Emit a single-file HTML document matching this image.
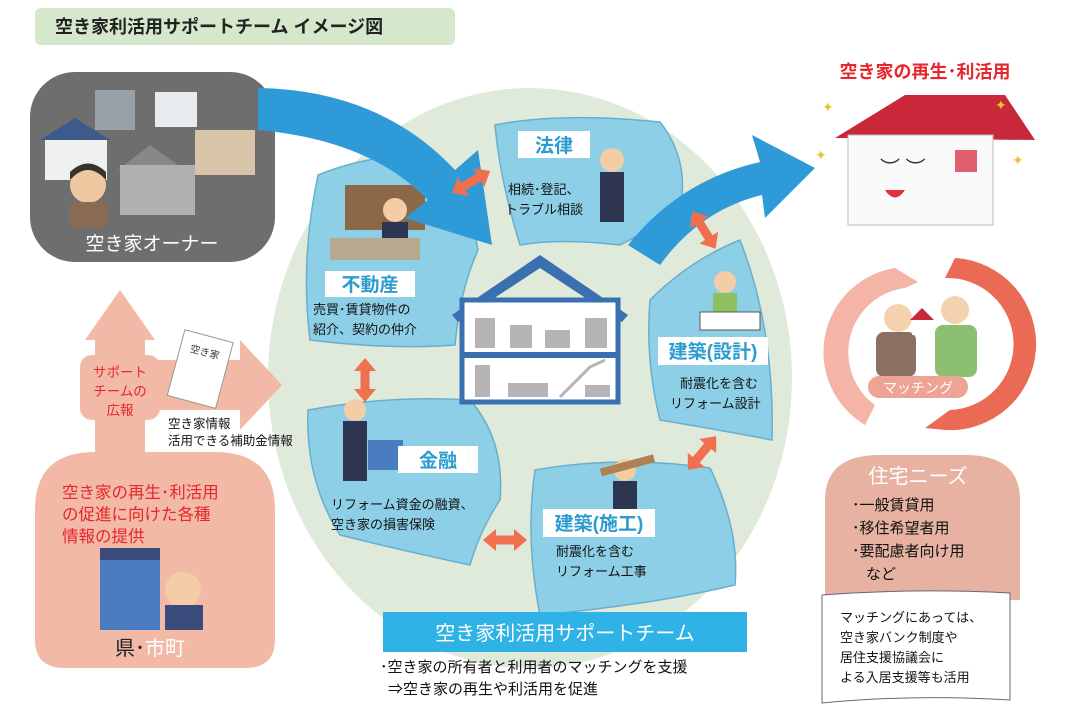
<!DOCTYPE html>
<html><head><meta charset="utf-8"><style>
html,body{margin:0;padding:0;background:#fff;}
svg{display:block;font-family:"Liberation Sans","Noto Sans CJK JP",sans-serif;}
</style></head><body>
<svg width="1078" height="727" viewBox="0 0 1078 727" xmlns="http://www.w3.org/2000/svg">
<defs>
<polygon id="da" points="-22,0 -9,-11 -9,-4.5 9,-4.5 9,-11 22,0 9,11 9,4.5 -9,4.5 -9,11" fill="#ef6f4f"/>
</defs>
<!-- title -->
<rect x="35" y="8" width="420" height="37" rx="6" fill="#d6e8cc"/>
<text x="55" y="33" font-size="18" font-weight="bold" fill="#222">空き家利活用サポートチーム  イメージ図</text>

<!-- big pale circle -->
<ellipse cx="530" cy="378" rx="262" ry="290" fill="#dfeadb"/>

<!-- gray owner box -->
<rect x="30" y="72" width="245" height="190" rx="45" fill="#6e6e6e"/>
<rect x="95" y="90" width="40" height="40" fill="#9aa0a8"/>
<rect x="155" y="92" width="42" height="35" fill="#e8ecef"/>
<polygon points="40,140 75,118 110,140" fill="#3c5a8a"/>
<rect x="45" y="140" width="62" height="40" fill="#f0f0f0"/>
<rect x="195" y="130" width="60" height="45" fill="#d8c4a8"/>
<polygon points="118,170 150,145 185,170" fill="#888"/>
<rect x="120" y="165" width="75" height="50" fill="#b0b0b0"/>
<circle cx="88" cy="185" r="18" fill="#f0c8a0"/>
<path d="M70 180 Q88 160 106 180 L106 172 Q88 155 70 172Z" fill="#333"/>
<rect x="70" y="202" width="38" height="25" rx="6" fill="#8a6a50"/>
<text x="152" y="250" font-size="19" fill="#fff" text-anchor="middle">空き家オーナー</text>

<!-- pink arrows -->
<polygon points="120,290 155,340 145,340 145,470 95,470 95,340 85,340" fill="#f2b9a6"/>
<polygon points="150,360 240,360 240,340 282,385 240,430 240,410 150,410" fill="#f2b9a6"/>
<rect x="80" y="355" width="80" height="65" rx="12" fill="#f2b9a6"/>
<text font-size="13.5" fill="#e8262b" text-anchor="middle"><tspan x="120" y="377">サポート</tspan><tspan x="120" y="396">チームの</tspan><tspan x="120" y="415">広報</tspan></text>
<g transform="rotate(15 200 370)"><rect x="175" y="335" width="50" height="68" fill="#fff" stroke="#999"/><text x="200" y="355" font-size="10" text-anchor="middle" fill="#333">空き家</text></g>
<text font-size="12.5" fill="#111"><tspan x="168" y="428">空き家情報</tspan><tspan x="168" y="445">活用できる補助金情報</tspan></text>
<path d="M35 510 Q35 452 95 452 L215 452 Q275 452 275 510 L275 640 Q275 668 245 668 L65 668 Q35 668 35 640Z" fill="#f2b9a6"/>
<text font-size="16.5" fill="#e8262b"><tspan x="62" y="498">空き家の再生･利活用</tspan><tspan x="62" y="520">の促進に向けた各種</tspan><tspan x="62" y="542">情報の提供</tspan></text>
<rect x="100" y="548" width="60" height="12" fill="#3a4a7a"/>
<rect x="100" y="560" width="60" height="70" fill="#4a7cc0"/>
<circle cx="183" cy="590" r="18" fill="#f4cca6"/>
<rect x="165" y="605" width="38" height="25" fill="#3a4a7a"/>
<text x="150" y="655" font-size="20" fill="#222" text-anchor="middle">県･<tspan fill="#fff">市町</tspan></text>

<!-- petals -->
<g fill="#8dcfe6" stroke="#6aaecd" stroke-width="1.5">
<path d="M495 125 Q560 112 660 122 Q690 160 680 210 Q650 230 620 245 Q560 238 520 245 Q500 180 495 125Z"/>
<path d="M318 175 Q380 150 440 158 Q470 200 478 250 Q460 290 455 345 Q390 350 310 340 Q300 260 318 175Z"/>
<path d="M650 300 Q690 260 740 240 Q775 330 772 440 Q720 430 660 420 Q645 360 650 300Z"/>
<path d="M308 410 Q390 395 470 400 Q505 440 500 500 Q480 530 470 565 Q400 550 340 535 Q305 480 308 410Z"/>
<path d="M535 470 Q620 455 710 468 Q740 530 735 585 Q650 605 540 615 Q525 540 535 470Z"/>
</g>
<!-- people placeholders -->
<rect x="345" y="185" width="80" height="45" fill="#8a6848"/>
<circle cx="395" cy="210" r="12" fill="#f4cca6"/><rect x="382" y="222" width="26" height="28" fill="#2e3550"/>
<rect x="330" y="238" width="90" height="22" fill="#b8a890"/>
<circle cx="612" cy="160" r="12" fill="#f4cca6"/><rect x="600" y="172" width="24" height="50" fill="#2e3550"/>
<circle cx="725" cy="282" r="11" fill="#f4cca6"/><rect x="713" y="293" width="24" height="22" fill="#8cc060"/>
<rect x="700" y="312" width="60" height="18" fill="#fff" stroke="#555"/>
<circle cx="355" cy="410" r="11" fill="#f4cca6"/><rect x="343" y="421" width="24" height="60" fill="#2e3550"/>
<rect x="368" y="440" width="35" height="30" fill="#4a7cc0"/>
<circle cx="625" cy="470" r="11" fill="#f4cca6"/><rect x="613" y="481" width="24" height="28" fill="#2e3550"/>
<rect x="600" y="462" width="55" height="8" fill="#b08050" transform="rotate(-15 625 466)"/>

<!-- labels -->
<g fill="#fff"><rect x="518" y="131" width="72" height="27"/><rect x="325" y="271" width="90" height="26"/><rect x="658" y="337" width="110" height="28"/><rect x="398" y="446" width="80" height="27"/><rect x="543" y="509" width="112" height="28"/></g>
<g font-size="19" font-weight="bold" fill="#2b9bd0" text-anchor="middle">
<text x="554" y="152">法律</text><text x="370" y="291">不動産</text><text x="713" y="358">建築(設計)</text><text x="438" y="467">金融</text><text x="599" y="530">建築(施工)</text></g>
<g font-size="13" fill="#111">
<text x="508" y="194">相続･登記、</text><text x="505" y="214">トラブル相談</text>
<text x="313" y="314">売買･賃貸物件の</text><text x="313" y="334">紹介、契約の仲介</text>
<text x="680" y="388">耐震化を含む</text><text x="670" y="408">リフォーム設計</text>
<text x="331" y="509">リフォーム資金の融資、</text><text x="331" y="529">空き家の損害保険</text>
<text x="556" y="556">耐震化を含む</text><text x="556" y="576">リフォーム工事</text></g>

<!-- center house -->
<polygon points="540,255 452,315 458,322 540,268 622,322 628,315" fill="#3a6fb0"/>
<rect x="462" y="300" width="156" height="102" fill="#fff" stroke="#3a6fb0" stroke-width="5"/>
<rect x="460" y="352" width="160" height="6" fill="#3a6fb0"/>
<g fill="#b5b5b5"><rect x="475" y="318" width="20" height="30"/><rect x="510" y="325" width="22" height="23"/><rect x="545" y="330" width="25" height="18"/><rect x="585" y="318" width="22" height="30"/><rect x="475" y="365" width="15" height="32"/><rect x="508" y="383" width="40" height="14"/><polyline points="560,397 575,382 590,367 605,360" fill="none" stroke="#b5b5b5" stroke-width="3"/><rect x="585" y="385" width="25" height="12"/></g>

<!-- big blue arrows -->
<path d="M258 88 Q380 90 455 170 L478 150 L492 245 L405 218 L428 200 Q370 140 258 130Z" fill="#2e9ad8"/>
<path d="M628 245 Q680 180 760 162 L752 135 L815 168 L765 218 L762 195 Q700 210 660 265Z" fill="#2e9ad8"/>

<!-- orange double arrows -->
<use href="#da" transform="translate(471 182) rotate(-30)"/>
<use href="#da" transform="translate(365 380) rotate(90)"/>
<use href="#da" transform="translate(505 540)"/>
<use href="#da" transform="translate(702 453) rotate(-50)"/>
<use href="#da" transform="translate(704 230) rotate(58)"/>

<!-- bottom banner -->
<rect x="383" y="612" width="364" height="40" fill="#2fb2e6"/>
<text x="565" y="640" font-size="20" fill="#fff" text-anchor="middle">空き家利活用サポートチーム</text>
<text font-size="15" fill="#111"><tspan x="380" y="672">･空き家の所有者と利用者のマッチングを支援</tspan><tspan x="388" y="694">⇒空き家の再生や利活用を促進</tspan></text>

<!-- right side -->
<text x="925" y="78" font-size="18" font-weight="bold" fill="#e8262b" text-anchor="middle">空き家の再生･利活用</text>
<polygon points="835,138 905,95 1005,95 1035,140" fill="#c8283a"/>
<rect x="848" y="135" width="145" height="90" fill="#fafafa" stroke="#bbb"/>
<text x="880" y="175" font-size="20" fill="#333">︶ ︶</text>
<path d="M885 190 Q895 205 905 190Z" fill="#e03040"/>
<rect x="955" y="150" width="22" height="22" fill="#e06070"/>
<g fill="#f0c030" font-size="14"><text x="822" y="112">✦</text><text x="995" y="110">✦</text><text x="815" y="160">✦</text><text x="1012" y="165">✦</text></g>
<path d="M895 268 A85 85 0 0 0 865 425 L875 405 A65 65 0 0 1 905 288 L918 282Z" fill="#f4b5a6"/>
<path d="M955 258 A85 85 0 0 1 945 430 L925 428 L950 410 A65 65 0 0 0 945 278Z" fill="#ea6a55"/>
<circle cx="898" cy="318" r="14" fill="#f4d2b0"/><rect x="876" y="332" width="40" height="45" rx="8" fill="#8a7060"/>
<circle cx="955" cy="310" r="14" fill="#f4d2b0"/><rect x="935" y="325" width="42" height="52" rx="8" fill="#8cc070"/>
<polygon points="910,320 922,308 934,320" fill="#c8283a"/><rect x="912" y="320" width="20" height="15" fill="#fff"/>
<rect x="868" y="376" width="100" height="22" rx="11" fill="#eea494"/>
<text x="918" y="393" font-size="14" fill="#fff" text-anchor="middle">マッチング</text>
<path d="M825 500 Q825 455 880 455 L965 455 Q1020 455 1020 500 L1020 600 L825 600Z" fill="#e8b2a2"/>
<text x="918" y="483" font-size="20" fill="#fff" text-anchor="middle">住宅ニーズ</text>
<text font-size="15" fill="#111"><tspan x="852" y="510">･一般賃貸用</tspan><tspan x="852" y="533">･移住希望者用</tspan><tspan x="852" y="556">･要配慮者向け用</tspan><tspan x="866" y="579">など</tspan></text>
<path d="M822 595 Q915 588 1010 593 L1010 700 Q915 694 822 703Z" fill="#fff" stroke="#667" stroke-width="1"/>
<text font-size="13" fill="#111"><tspan x="840" y="622">マッチングにあっては、</tspan><tspan x="840" y="642">空き家バンク制度や</tspan><tspan x="840" y="662">居住支援協議会に</tspan><tspan x="840" y="682">よる入居支援等も活用</tspan></text>
</svg>
</body></html>
